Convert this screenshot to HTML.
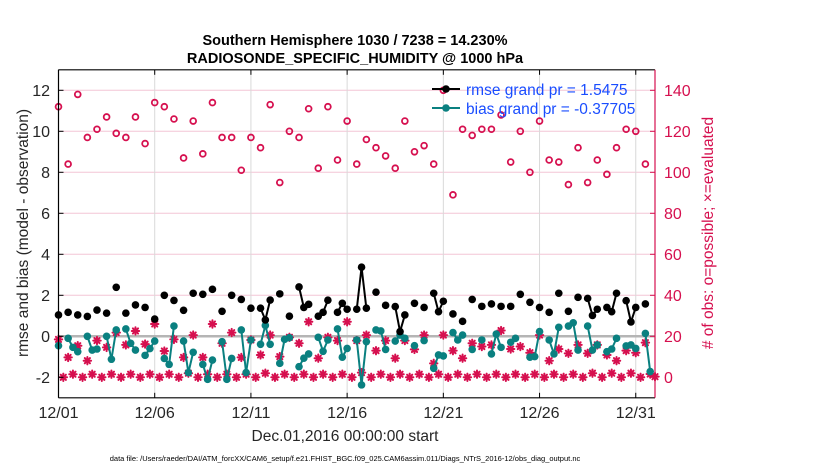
<!DOCTYPE html>
<html><head><meta charset="utf-8">
<style>
html,body{margin:0;padding:0;background:#fff;}
svg{display:block;font-family:"Liberation Sans",Arial,sans-serif;}
</style></head>
<body>
<svg id="chart" width="830" height="470" viewBox="0 0 830 470" xmlns="http://www.w3.org/2000/svg">
<rect width="830" height="470" fill="#fff"/>
<text x="355" y="45" font-size="14.5" font-weight="bold" text-anchor="middle" fill="#000">Southern Hemisphere 1030 / 7238 = 14.230%</text>
<text x="355" y="63" font-size="14.5" font-weight="bold" text-anchor="middle" fill="#000">RADIOSONDE_SPECIFIC_HUMIDITY @ 1000 hPa</text>
<g id="grid"></g>
<g id="marks"></g>
<g id="axes"></g>
<text transform="translate(28,233) rotate(-90)" font-size="15.5" text-anchor="middle" fill="#262626">rmse and bias (model - observation)</text>
<text transform="translate(713,233) rotate(-90)" font-size="15.5" text-anchor="middle" fill="#d6104f"># of obs: o=possible; ×=evaluated</text>
<text x="345" y="441" font-size="15.5" text-anchor="middle" fill="#262626">Dec.01,2016 00:00:00 start</text>
<text x="345" y="461" font-size="7.5" text-anchor="middle" fill="#000">data file: /Users/raeder/DAI/ATM_forcXX/CAM6_setup/f.e21.FHIST_BGC.f09_025.CAM6assim.011/Diags_NTrS_2016-12/obs_diag_output.nc</text>
<g>
  <line x1="432" y1="89" x2="460" y2="89" stroke="#000" stroke-width="2"/>
  <circle cx="446" cy="89" r="3.8" fill="#000"/>
  <text x="466" y="95" font-size="15.5" fill="#1a4dff">rmse grand pr = 1.5475</text>
  <line x1="432" y1="108" x2="460" y2="108" stroke="#0a8080" stroke-width="2"/>
  <circle cx="446" cy="108" r="3.8" fill="#0a8080"/>
  <text x="466" y="114" font-size="15.5" fill="#1a4dff">bias grand pr = -0.37705</text>
</g>
</svg>
<script>
// ---- data ----
const xTickDays = [0, 5, 10, 15, 20, 25, 30];
const xTickLabels = ["12/01", "12/06", "12/11", "12/16", "12/21", "12/26", "12/31"];
const leftTicks = [-2, 0, 2, 4, 6, 8, 10, 12];
const rightTicks = [0, 20, 40, 60, 80, 100, 120, 140];

const possibleDays = [0,0.5,1,1.5,2,2.5,3,3.5,4,4.5,5,5.5,6,6.5,7,7.5,8,8.5,9,9.5,10,10.5,11,11.5,12,12.5,13,13.5,14,14.5,15,15.5,16,16.5,17,17.5,18,18.5,19,19.5,20,20.5,21,21.5,22,22.5,23,23.5,24,24.5,25,25.5,26,26.5,27,27.5,28,28.5,29,29.5,30,30.5];
const possibleCounts = [132,104,138,117,121,127,119,117,127,114,134,132,126,107,125,109,134,117,117,101,117,112,133,95,120,117,131,102,132,106,125,104,116,112,108,102,125,110,113,104,140,89,121,118,121,121,128,105,120,100,125,106,105,94,112,95,106,99,112,121,120,104];

const evalDays = [0,0.5,1,1.5,2,2.5,3,3.5,4,4.5,5,5.5,6,6.5,7,7.5,8,8.5,9,9.5,10,10.5,11,11.5,12,12.5,13,13.5,14,14.5,15,15.5,16,16.5,17,17.5,18,18.5,19,19.5,20,20.5,21,21.5,22,22.5,23,23.5,24,24.5,25,25.5,26,26.5,27,27.5,28,28.5,29,29.5,30,30.5,31];
const evalCounts = [18.5,9.7,15.4,8.1,17.9,14.6,21.8,15.8,22.6,16.2,26,12.8,18.5,9.7,20.6,9.7,26,16.6,21.8,9.7,18.2,10.9,20.6,10.1,19.5,16.6,27.1,9.3,19.5,17.9,27.1,17.9,20.6,13,17.9,9.3,17.9,13.6,20.6,6.8,20.6,13,9.3,16.6,15,15.8,22.8,13.8,15,12,20.6,8.1,13.8,11.7,15.8,11.7,15.8,10.9,8.1,13,12,16.9,0.3];

const evalOffDays = [0.25,0.75,1.25,1.75,2.25,2.75,3.25,3.75,4.25,4.75,5.25,5.75,6.25,6.75,7.25,7.75,8.25,8.75,9.25,9.75,10.25,10.75,11.25,11.75,12.25,12.75,13.25,13.75,14.25,14.75,15.25,15.75,16.25,16.75,17.25,17.75,18.25,18.75,19.25,19.75,20.25,20.75,21.25,21.75,22.25,22.75,23.25,23.75,24.25,24.75,25.25,25.75,26.25,26.75,27.25,27.75,28.25,28.75,29.25,29.75,30.25,30.75];
const evalOffCounts = [0,1.5,0,1.5,0,1.5,0,1.5,0,1.5,0,1.5,0,2,0,1.5,0,1.5,0,1.5,0,2,0,1.5,0,1.5,0,1.5,0,1.5,0,2.3,0,1.5,0,1.5,0,1.5,0,1.5,0,1.5,0,1.5,0,1.5,0,1.5,0,1.5,0,1.5,0,1.5,0,2,0,2,0,2,0,1.6];

const rmseDays = [0,0.5,1,1.5,2,2.5,3,3.5,4,4.5,5,5.5,6,6.5,7,7.5,8,8.5,9,9.5,10,10.5,10.75,11,11.5,12,12.5,12.75,13,13.5,13.75,14,14.5,14.75,15,15.5,15.75,16,16.5,17,17.5,17.75,18,18.5,19,19.5,19.75,20,20.5,21,21.5,22,22.5,23,23.5,24,24.5,25,25.5,26,26.5,27,27.5,27.75,28,28.5,28.75,29,29.5,29.75,30,30.5];
const rmseVals = [1.04,1.17,1.04,0.97,1.28,1.13,2.39,1.13,1.53,1.41,0.84,2.0,1.75,1.27,2.1,2.05,2.29,1.22,2.0,1.8,1.37,1.37,0.8,1.77,2.07,0.98,2.41,1.41,1.56,0.98,1.17,1.76,1.17,1.61,1.32,1.32,3.37,1.37,2.15,1.51,1.45,0.23,1.04,1.61,1.41,2.1,1.2,1.71,1.09,0.73,1.8,1.46,1.58,1.46,1.46,2.05,1.66,1.41,1.17,2.1,1.22,1.9,1.85,1.02,1.32,1.41,1.2,2.1,1.74,0.7,1.41,1.58];

const biasDays = [0,0.5,0.75,1,1.5,1.75,2,2.5,2.75,3,3.5,3.75,4,4.5,4.75,5,5.5,5.75,6,6.5,6.75,7,7.5,7.75,8,8.5,8.75,9,9.5,9.75,10,10.5,10.75,11,11.5,11.75,12,12.5,12.75,13,13.5,13.75,14,14.5,14.75,15,15.5,15.75,16,16.5,16.75,17,17.5,17.75,18,18.5,19,19.5,19.75,20,20.5,20.75,21,21.5,22,22.5,22.75,23,23.5,23.75,24.5,24.75,25,25.5,25.75,26,26.5,26.75,27,27.5,27.75,28,28.5,28.75,29,29.5,29.75,30,30.5,30.75];
const biasVals = [-0.46,-0.1,-0.54,-0.75,0.0,-0.67,-0.62,0.0,-1.12,0.31,0.36,-0.34,-0.67,-0.93,-0.6,-0.23,-1.08,-1.37,0.5,-0.23,-1.77,-0.78,-1.37,-2.1,-1.16,-0.26,-2.1,-1.08,0.31,-1.77,-0.18,-0.39,0.53,-0.39,-1.32,-0.15,-0.07,-1.48,-1.07,-0.86,-0.05,-0.73,-0.18,0.36,-1.02,-0.59,-0.18,-2.37,-0.26,0.31,0.26,-0.64,-0.23,0.06,-0.1,-0.46,-0.21,-1.56,-0.91,-0.96,0.18,-0.18,0.06,-0.64,-0.18,-0.86,0.11,-0.54,-0.29,-0.1,-1.02,-0.99,0.23,-0.18,-0.86,0.44,0.5,0.66,-0.67,0.5,-0.67,-0.42,-0.75,-0.62,-0.1,-0.47,-0.42,-0.59,0.14,-1.72];

// ---- axis functions ----
const PL = 58.5, PR = 655, PT = 69.8, PB = 397.8;
function xs(d){ return PL + d * (PR - PL) / 31; }
function yL(v){ return 336.3 - v * 20.5; }
function yR(c){ return yL(c / 10 - 2); }

const NS = "http://www.w3.org/2000/svg";
function mk(parent, tag, attrs){
  const e = document.createElementNS(NS, tag);
  for (const k in attrs) e.setAttribute(k, attrs[k]);
  parent.appendChild(e);
  return e;
}
const grid = document.getElementById('grid');
const marks = document.getElementById('marks');
const axes = document.getElementById('axes');
const PINK = "#d6104f", TEAL = "#0a8080";

leftTicks.forEach(v => {
  if (v === 0 || v === -2) return;
  const l = mk(grid, 'line', {x1: PL, x2: PR, y1: yL(v), y2: yL(v), stroke: '#f4c6d6', 'stroke-width': 1});
  
  
});
xTickDays.forEach(d => {
  if (d === 0) return;
  const l = mk(grid, 'line', {x1: xs(d), x2: xs(d), y1: PT, y2: PB, stroke: '#d9d9d9', 'stroke-width': 1});
  
  
});
const zl = mk(grid, 'line', {x1: PL, x2: PR, y1: yL(0), y2: yL(0), stroke: '#b5b5b5', 'stroke-width': 2.5});



function asterisk(cx, cy, name){
  const g = mk(marks, 'g', {stroke: PINK, 'stroke-width': 2, 'stroke-linecap': 'round'});
  
  
  const r = 3.7;
  mk(g, 'line', {x1: cx - r, x2: cx + r, y1: cy, y2: cy});
  mk(g, 'line', {x1: cx, x2: cx, y1: cy - r, y2: cy + r});
  mk(g, 'line', {x1: cx - r*0.7, x2: cx + r*0.7, y1: cy - r*0.7, y2: cy + r*0.7});
  mk(g, 'line', {x1: cx - r*0.7, x2: cx + r*0.7, y1: cy + r*0.7, y2: cy - r*0.7});
}

possibleDays.forEach((d, i) => {
  const c = mk(marks, 'circle', {cx: xs(d), cy: yR(possibleCounts[i]), r: 2.9, fill: 'none', stroke: PINK, 'stroke-width': 1.8});
  
  
});
evalDays.forEach((d, i) => asterisk(xs(d), yR(evalCounts[i]), 'evaluated-obs-marker'));
evalOffDays.forEach((d, i) => asterisk(xs(d), yR(evalOffCounts[i]), 'evaluated-obs-offhour-marker'));

function series(days, vals, color, name){
  for (let i = 1; i < days.length; i++) {
    if (days[i] - days[i-1] <= 0.26) {
      const l = mk(marks, 'line', {x1: xs(days[i-1]), y1: yL(vals[i-1]), x2: xs(days[i]), y2: yL(vals[i]), stroke: color, 'stroke-width': 2});
      
      
    }
  }
  days.forEach((d, i) => {
    const c = mk(marks, 'circle', {cx: xs(d), cy: yL(vals[i]), r: 3.8, fill: color});
    
    
  });
}
series(biasDays, biasVals, TEAL, 'bias');
series(rmseDays, rmseVals, '#000', 'rmse');

const fr = [
  {x1: PL, y1: PT, x2: PR, y2: PT, s: '#000', n: 'top-frame'},
  {x1: PL, y1: PT, x2: PL, y2: PB, s: '#000', n: 'y-axis-left-line'},
  {x1: PL, y1: PB, x2: PR, y2: PB, s: '#000', n: 'x-axis-line'},
  {x1: PR, y1: PT, x2: PR, y2: PB, s: PINK, n: 'y-axis-right-line'}
];
fr.forEach(f => {
  const l = mk(axes, 'line', {x1: f.x1, y1: f.y1, x2: f.x2, y2: f.y2, stroke: f.s, 'stroke-width': 1.2});
  
  
});
leftTicks.forEach(v => {
  mk(axes, 'line', {x1: PL, x2: PL + 5, y1: yL(v), y2: yL(v), stroke: '#000'});
  const t = mk(axes, 'text', {x: 50, y: yL(v) + 5.5, 'font-size': 16, 'text-anchor': 'end', fill: '#262626'});
  t.textContent = String(v);
  
  
});
rightTicks.forEach(c => {
  mk(axes, 'line', {x1: PR - 5, x2: PR, y1: yR(c), y2: yR(c), stroke: PINK});
  const t = mk(axes, 'text', {x: 664, y: yR(c) + 5.5, 'font-size': 16, 'text-anchor': 'start', fill: PINK});
  t.textContent = String(c);
  
  
});
xTickDays.forEach((d, i) => {
  mk(axes, 'line', {x1: xs(d), x2: xs(d), y1: PT, y2: PT + 5, stroke: '#000'});
  mk(axes, 'line', {x1: xs(d), x2: xs(d), y1: PB - 5, y2: PB, stroke: '#000'});
  const t = mk(axes, 'text', {x: xs(d), y: 418, 'font-size': 16, 'text-anchor': 'middle', fill: '#262626'});
  t.textContent = xTickLabels[i];
  
  
});
</script>
</body></html>
